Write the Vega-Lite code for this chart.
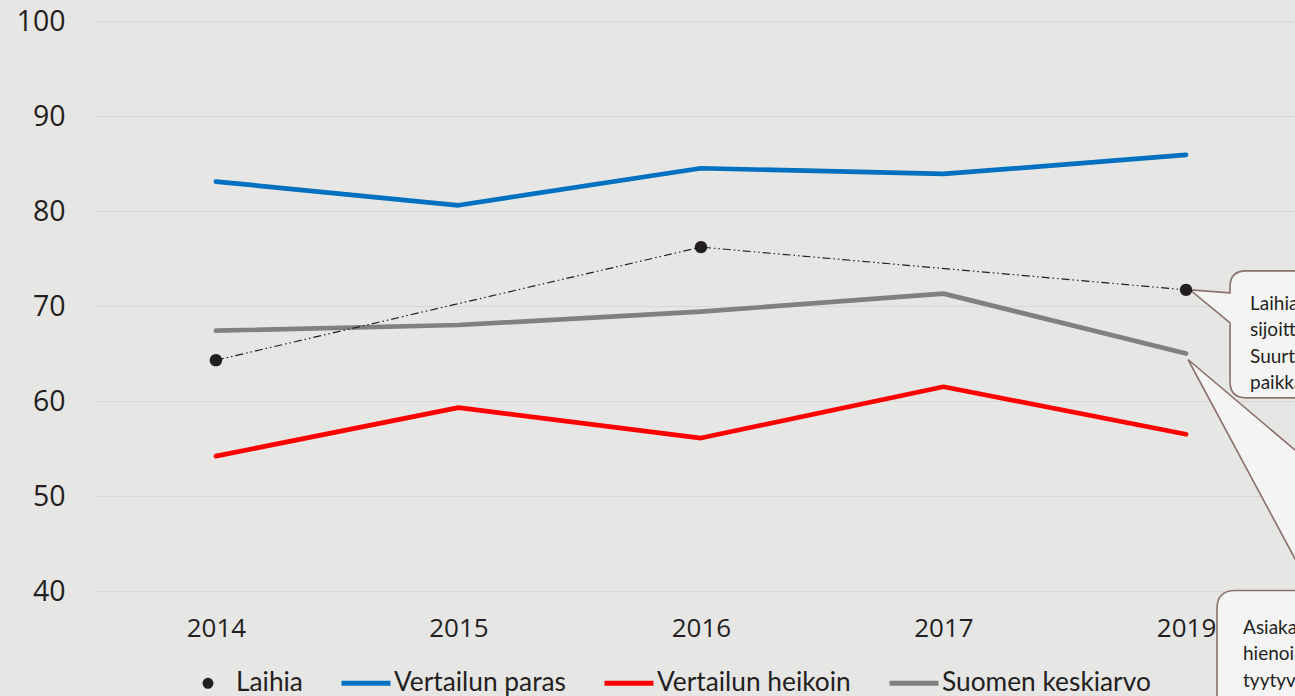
{
  "$schema": "https://vega.github.io/schema/vega-lite/v6.json",
  "autosize": "none",
  "width": 1201,
  "height": 570,
  "padding": {"left": 94, "top": 21, "right": 0, "bottom": 105},
  "background": "#e6e6e5",
  "config": {"view": {"stroke": null}, "font": "Open Sans"},
  "data": {
    "values": [
      {"series": "Laihia", "year": "2014", "value": 64.3},
      {"series": "Laihia", "year": "2016", "value": 76.2},
      {"series": "Laihia", "year": "2019", "value": 71.7},
      {"series": "Vertailun paras", "year": "2014", "value": 83.1},
      {"series": "Vertailun paras", "year": "2015", "value": 80.6},
      {"series": "Vertailun paras", "year": "2016", "value": 84.5},
      {"series": "Vertailun paras", "year": "2017", "value": 83.9},
      {"series": "Vertailun paras", "year": "2019", "value": 85.9},
      {"series": "Vertailun heikoin", "year": "2014", "value": 54.2},
      {"series": "Vertailun heikoin", "year": "2015", "value": 59.3},
      {"series": "Vertailun heikoin", "year": "2016", "value": 56.1},
      {"series": "Vertailun heikoin", "year": "2017", "value": 61.5},
      {"series": "Vertailun heikoin", "year": "2019", "value": 56.5},
      {"series": "Suomen keskiarvo", "year": "2014", "value": 67.4},
      {"series": "Suomen keskiarvo", "year": "2015", "value": 68.0},
      {"series": "Suomen keskiarvo", "year": "2016", "value": 69.4},
      {"series": "Suomen keskiarvo", "year": "2017", "value": 71.3},
      {"series": "Suomen keskiarvo", "year": "2019", "value": 65.0}
    ]
  },
  "encoding": {
    "x": {
      "field": "year", "type": "ordinal",
      "scale": {"type": "point", "domain": ["2014", "2015", "2016", "2017", "2019"], "padding": 0.476, "align": 0.528},
      "axis": {"title": null, "domain": false, "ticks": false, "grid": false, "labelAngle": 0, "labelFontSize": 26, "labelColor": "#231f20", "labelPadding": 24, "labelFont": "Open Sans"}
    },
    "y": {
      "field": "value", "type": "quantitative",
      "scale": {"domain": [40, 100], "nice": false, "zero": false},
      "axis": {"title": null, "domain": false, "ticks": false, "values": [40, 50, 60, 70, 80, 90, 100], "grid": true, "gridColor": "#ddd5d5", "gridWidth": 1, "labelFontSize": 28.5, "labelColor": "#231f20", "labelPadding": 29, "labelFont": "Open Sans"}
    }
  },
  "layer": [
    {
      "transform": [{"filter": "datum.series !== 'Laihia'"}],
      "mark": {"type": "line", "strokeWidth": 4.7, "strokeCap": "round", "strokeJoin": "round"},
      "encoding": {
        "color": {
          "field": "series", "type": "nominal",
          "scale": {"domain": ["Laihia", "Vertailun paras", "Vertailun heikoin", "Suomen keskiarvo"], "range": ["#231f20", "#0070c0", "#ff0000", "#808080"]},
          "legend": {"title": null, "orient": "none", "legendX": 87, "legendY": 635, "direction": "horizontal", "labelFont": "Lato", "labelFontSize": 26.3, "labelLimit": 500, "labelColor": "#231f20", "symbolSize": 2401, "symbolStrokeWidth": 5, "labelOffset": 1, "columnPadding": 28, "symbolFillColor": "#231f20"}
        }
      }
    },
    {
      "transform": [{"filter": "datum.series === 'Laihia'"}],
      "mark": {"type": "line", "strokeWidth": 1.2, "strokeDash": [8, 3, 1.5, 3, 1.5, 3]},
      "encoding": {
        "color": {"field": "series", "type": "nominal"}
      }
    },
    {
      "transform": [{"filter": "datum.series === 'Suomen keskiarvo' && datum.year === '2019'"}],
      "mark": {"type": "point", "shape": "M 2 6 L 275 237 L 400 237 L 400 420 L 31 420 L 31 255 Q 31 237 49 237 L 126 237 Z", "size": 4, "filled": true, "fill": "#f4f4f4", "stroke": "#8b706b", "strokeWidth": 1.6, "opacity": 1}
    },
    {
      "transform": [{"filter": "datum.series === 'Laihia' && datum.year === '2019'"}],
      "mark": {"type": "point", "shape": "M 4 0 L 44 3 L 44 -3 Q 44 -19 60 -19 L 400 -19 L 400 108 L 60 108 Q 44 108 44 92 L 44 33 Z", "size": 4, "filled": true, "fill": "#f4f4f4", "stroke": "#8b706b", "strokeWidth": 1.6, "opacity": 1}
    },
    {
      "transform": [{"filter": "datum.series === 'Laihia' && datum.year === '2019'"}],
      "mark": {"type": "text", "text": ["Laihia", "sijoittui", "Suurten", "paikkakunta"], "align": "left", "baseline": "middle", "dx": 64, "dy": 14, "font": "Lato", "fontSize": 19, "lineHeight": 26.5, "color": "#231f20"}
    },
    {
      "transform": [{"filter": "datum.series === 'Suomen keskiarvo' && datum.year === '2019'"}],
      "mark": {"type": "text", "text": ["Asiakastyytyväisyys", "hienoinen", "tyytyväisyys"], "align": "left", "baseline": "middle", "dx": 57, "dy": 274, "font": "Lato", "fontSize": 19, "lineHeight": 26.5, "color": "#231f20"}
    },
    {
      "transform": [{"filter": "datum.series === 'Laihia'"}],
      "mark": {"type": "point", "filled": true, "size": 10322, "opacity": 1},
      "encoding": {
        "color": {"field": "series", "type": "nominal"},
        "shape": {
          "field": "series", "type": "nominal",
          "scale": {"domain": ["Laihia", "Vertailun paras", "Vertailun heikoin", "Suomen keskiarvo"], "range": ["M -0.122 0 A 0.122 0.122 0 1 1 0.122 0 A 0.122 0.122 0 1 1 -0.122 0 Z", "stroke", "stroke", "stroke"]}
        }
      }
    }
  ]
}
